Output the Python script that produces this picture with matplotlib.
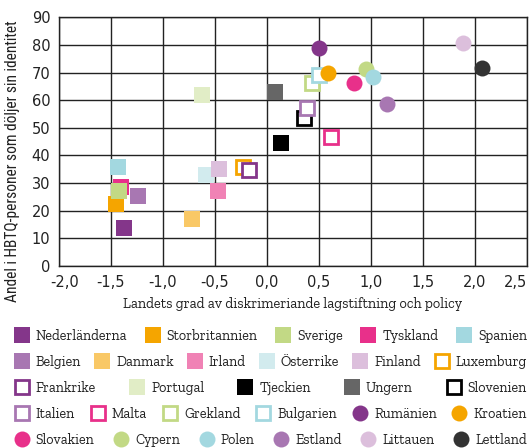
import matplotlib
matplotlib.use('Agg')
import matplotlib.pyplot as plt
import matplotlib.transforms as mtransforms
from matplotlib.lines import Line2D

plt.rcParams['font.family'] = ['DejaVu Sans']

# Data
countries = ['Nederländerna', 'Storbritannien', 'Sverige', 'Tyskland', 'Spanien',
             'Belgien', 'Danmark', 'Irland', 'Österrike', 'Finland', 'Luxemburg',
             'Frankrike', 'Portugal', 'Tjeckien', 'Ungern', 'Slovenien',
             'Italien', 'Malta', 'Grekland', 'Bulgarien', 'Rumänien', 'Kroatien',
             'Slovakien', 'Cypern', 'Polen', 'Estland', 'Littauen', 'Lettland']
discrimination = [-1.37, -1.45, -1.42, -1.40, -1.43,
                  -1.24, -0.72, -0.47, -0.58, -0.46, -0.23,
                  -0.17, -0.62, 0.14, 0.08, 0.36,
                  0.39, 0.62, 0.43, 0.50, 0.50, 0.59,
                  0.84, 0.95, 1.02, 1.16, 1.89, 2.07]
hiding_share = [13.5, 22.5, 26.9, 28.6, 35.6,
                25.1, 17.1, 26.9, 32.7, 34.9, 35.8,
                34.7, 62.0, 44.6, 63.1, 53.4,
                57.1, 46.7, 66.1, 69.2, 79.1, 69.8,
                66.4, 71.4, 68.4, 58.7, 80.6, 71.7]
colors = ['#84368a', '#f5a500', '#c2d985', '#e8308a', '#a3d8e0',
          '#a877b2', '#f9c866', '#f082b5', '#d2ebee', '#dcbfdc', '#f5a500',
          '#84368a', '#e1edc6', '#000000', '#666666', '#000000',
          '#a877b2', '#e8308a', '#c2d985', '#a3d8e0', '#84368a', '#f5a500',
          '#e8308a', '#c2d985', '#a3d8e0', '#a877b2', '#dcbfdc', '#333333']
styles = ['filled'] * 10 + ['hollow'] + ['hollow', 'filled', 'filled', 'filled', 'hollow'] + \
         ['hollow'] * 4 + ['circle'] * 8
legend_rows = [5, 6, 5, 6, 6]

xticks = [-2.0, -1.5, -1.0, -0.5, 0.0, 0.5, 1.0, 1.5, 2.0, 2.5]
xticklabels = ['-2,0', '-1,5', '-1,0', '-0,5', '0,0', '0,5', '1,0', '1,5', '2,0', '2,5']
yticks = [0, 10, 20, 30, 40, 50, 60, 70, 80, 90]

fig = plt.figure(figsize=(5.29, 4.48), dpi=100)
ax = fig.add_axes([0.111, 0.407, 0.885, 0.554])


def marker_kw(style, color):
    if style == 'filled':
        return dict(marker='s', markersize=12, markerfacecolor=color, markeredgewidth=0)
    if style == 'hollow':
        return dict(marker='s', markersize=10.5, markerfacecolor='white',
                    markeredgecolor=color, markeredgewidth=2)
    return dict(marker='o', markersize=11.5, markerfacecolor=color, markeredgewidth=0)


handles = []
for i, name in enumerate(countries):
    z = 3 + i
    if name == 'Tyskland':
        z = 2.5
    ax.plot(discrimination[i], hiding_share[i], linestyle='none', zorder=z,
            **marker_kw(styles[i], colors[i]))
    handles.append(Line2D([], [], linestyle='none', **marker_kw(styles[i], colors[i])))

ax.set_xlim(-2.0, 2.5)
ax.set_ylim(0, 90)
ax.set_xticks(xticks)
ax.set_xticklabels(xticklabels)
ax.set_yticks(yticks)
ax.grid(True, color='#222222', linewidth=1.0)
ax.set_axisbelow(True)
for s in ax.spines.values():
    s.set_color('#222222')
    s.set_linewidth(1.0)
ax.tick_params(length=0, labelsize=10.5, colors='#222222')
ax.tick_params(axis='x', pad=7)
ax.tick_params(axis='y', pad=6)

# end labels sit inside the axis range, as in the original
xl = ax.get_xticklabels()
xl[0].set_transform(xl[0].get_transform() + mtransforms.ScaledTranslation(6 / 100, 0, fig.dpi_scale_trans))
xl[-1].set_horizontalalignment('right')

ax.set_xlabel('Landets grad av diskrimeriande lagstiftning och policy',
              fontsize=10.4, family='Zilla Slab', color='#222222', labelpad=5)
ax.set_ylabel('Andel i HBTQ-personer som döljer sin identitet',
              fontsize=11.2, family='Roboto Condensed', color='#222222')
ax.yaxis.set_label_coords(-0.082, 0.42)

# Legend: one row per legend, stretched to the figure width
row_y = [336, 362, 388, 414, 440]
left_px, right_px = 13, 527
legend_font = {'family': 'Zilla Slab', 'size': 10.2}
fig.canvas.draw()
start = 0
for r, n in enumerate(legend_rows):
    h = handles[start:start + n]
    labels = countries[start:start + n]
    start += n
    spacing = 1.0
    for _ in range(6):
        leg = fig.legend(h, labels, ncol=n, loc='center left', frameon=False,
                         bbox_to_anchor=(left_px / 529, 1 - row_y[r] / 448),
                         borderpad=0, borderaxespad=0, handlelength=1.2,
                         handletextpad=0.4, columnspacing=spacing, prop=legend_font)
        fig.canvas.draw()
        bb = leg.get_window_extent()
        extra = (right_px - left_px) - bb.width
        leg.remove()
        spacing += extra / (n - 1) / (legend_font['size'] * 100 / 72)
    leg = fig.legend(h, labels, ncol=n, loc='center left', frameon=False,
                     bbox_to_anchor=(left_px / 529, 1 - row_y[r] / 448),
                     borderpad=0, borderaxespad=0, handlelength=1.2,
                     handletextpad=0.4, columnspacing=spacing, prop=legend_font)
    for t in leg.get_texts():
        t.set_color('#222222')

fig.savefig('out.png', dpi=100)
